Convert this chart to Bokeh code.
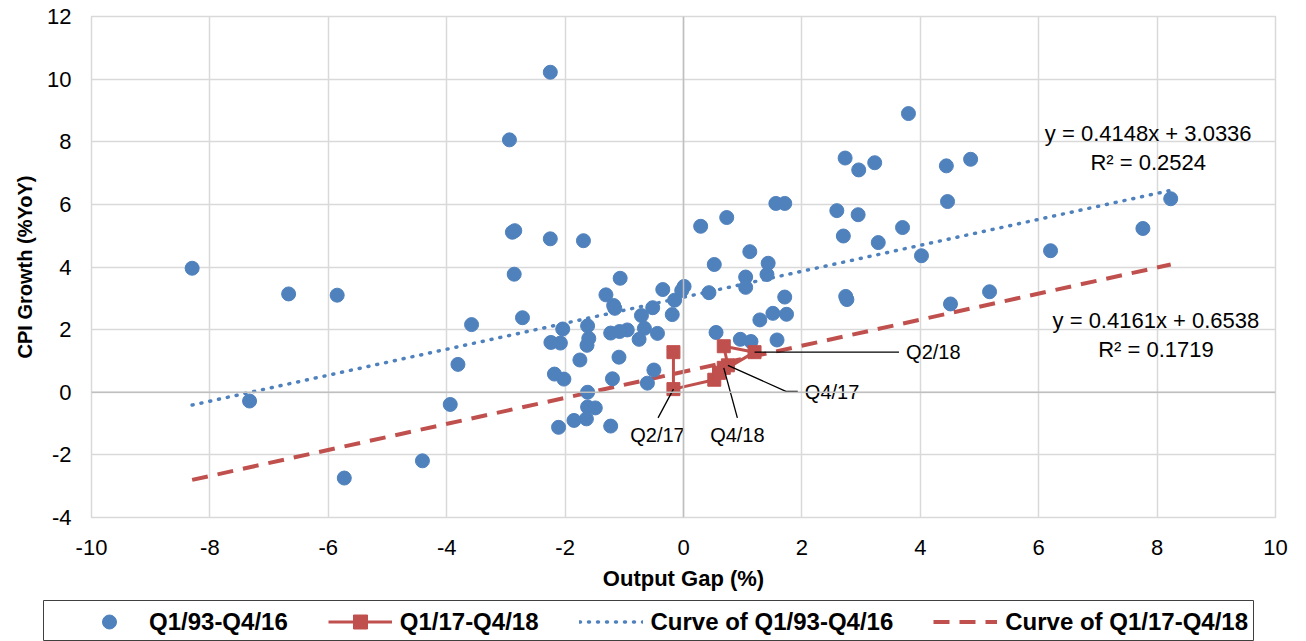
from bokeh.plotting import figure
from bokeh.layouts import column
from bokeh.models import Range1d, Legend, LegendItem, Span, PrintfTickFormatter
from bokeh.core.properties import value
from bokeh.embed import file_html
from bokeh.resources import INLINE

# ---- data ----
hist_x = [-8.30, -6.67, -5.85, -7.33, -5.73, -4.41, -3.94, -3.81, -3.58,
          -2.25, -2.94, -2.89, -2.85, -2.25, -1.69, -2.86, -2.72, -1.07,
          -1.31, -1.18, -1.16, -0.71, -0.52, -0.35, -0.19, -0.15, 0.01, -0.03,
          -0.66, -0.75, -0.44, -0.95, -1.08, -1.23, -1.60, -1.63, -1.62, -2.04,
          -2.24, -2.08, -1.75, -1.09, -2.18, -2.02, -1.20, -0.50, -0.61, -1.62,
          -1.62, -1.49, -1.64, -1.85, -2.11, -1.23,
          0.29, 0.73, 0.52, 0.43, 1.12, 1.43, 1.41, 1.05, 1.05, 1.71, 1.51,
          1.74, 1.29, 0.55, 0.96, 1.14, 1.58, 1.56, 1.71, 2.59, 2.95, 2.73,
          2.96, 3.23, 3.80, 4.44, 4.85, 4.46, 2.70, 3.70, 3.29, 4.02, 2.74,
          2.76, 4.51, 5.17, 6.20, 7.76, 8.23]
hist_y = [3.96, 3.14, 3.10, -0.28, -2.74, -2.19, -0.39, 0.89, 2.16,
          10.22, 8.06, 5.11, 5.16, 4.90, 4.84, 3.77, 2.38, 3.64,
          3.11, 2.77, 2.68, 2.45, 2.70, 3.28, 2.48, 2.94, 3.38, 3.25,
          2.04, 1.69, 1.88, 1.99, 1.94, 1.89, 1.72, 1.50, 2.12, 2.02,
          1.59, 1.57, 1.03, 1.12, 0.58, 0.42, 0.43, 0.71, 0.29, 0.00,
          -0.47, -0.50, -0.85, -0.90, -1.12, -1.08,
          5.30, 5.58, 4.08, 3.18, 4.49, 4.12, 3.76, 3.68, 3.35, 3.04, 2.52,
          2.49, 2.31, 1.91, 1.69, 1.62, 1.67, 6.03, 6.03, 5.80, 5.67, 7.48,
          7.10, 7.33, 8.90, 7.23, 7.44, 6.09, 4.99, 5.26, 4.78, 4.36, 3.06,
          2.96, 2.82, 3.21, 4.52, 5.23, 6.18]

recent_labels = ["Q1/17", "Q2/17", "Q3/17", "Q4/17", "Q1/18", "Q2/18", "Q3/18", "Q4/18"]
recent_x = [-0.17, -0.17, 0.52, 0.75, 0.68, 1.20, 0.60, 0.68]
recent_y = [1.28, 0.10, 0.40, 0.86, 1.47, 1.28, 0.62, 0.78]

fit_hist = (0.4148, 3.0336, 0.2524)     # slope, intercept, R^2
fit_recent = (0.4161, 0.6538, 0.1719)

x_ticks = list(range(-10, 11, 2))
y_ticks = list(range(-4, 13, 2))

series_names = ["Q1/93-Q4/16", "Q1/17-Q4/18", "Curve of Q1/93-Q4/16", "Curve of Q1/17-Q4/18"]

# ---- styling ----
BLUE = "#4f81bd"
RED = "#c0504d"
FONT = "Liberation Sans"

p = figure(width=1290, height=600, output_backend="svg", toolbar_location=None,
           x_range=Range1d(-10, 10), y_range=Range1d(-4, 12),
           min_border_left=91, min_border_right=15, min_border_top=16, min_border_bottom=83)
p.background_fill_color = "white"
p.border_fill_color = "white"
p.outline_line_color = "#d9d9d9"
p.outline_line_width = 1.5

p.xgrid.grid_line_color = "#d9d9d9"
p.ygrid.grid_line_color = "#d9d9d9"
p.xgrid.grid_line_width = 1.5
p.ygrid.grid_line_width = 1.5
p.xaxis.ticker = x_ticks
p.yaxis.ticker = y_ticks

for ax in (p.xaxis, p.yaxis):
    ax.axis_line_color = None
    ax.major_tick_line_color = None
    ax.minor_tick_line_color = None
    ax.major_tick_out = 0
    ax.major_tick_in = 0
    ax.formatter = PrintfTickFormatter(format="%d")
    ax.major_label_text_font = FONT
    ax.major_label_text_font_size = "22px"
    ax.major_label_text_color = "black"
    ax.axis_label_text_font = FONT
    ax.axis_label_text_font_style = "bold"
    ax.axis_label_text_color = "black"

p.xaxis.major_label_standoff = 22
p.yaxis.major_label_standoff = 20
p.xaxis.axis_label = "Output Gap (%)"
p.yaxis.axis_label = "CPI Growth (%YoY)"
p.xaxis.axis_label_text_font_size = "22px"
p.yaxis.axis_label_text_font_size = "20px"
p.xaxis.axis_label_standoff = 8
p.yaxis.axis_label_standoff = 8

# zero axis lines
p.add_layout(Span(location=0, dimension="height", line_color="#bfbfbf", line_width=1.5))
p.add_layout(Span(location=0, dimension="width", line_color="#bfbfbf", line_width=1.5))

# trend lines across the historical x-range
x0, x1 = min(hist_x), max(hist_x)
tl_x = [x0, x1]
fit_style_h = dict(line_color=BLUE, line_width=3.5, line_dash="1 8", line_cap="round")
fit_style_r = dict(line_color=RED, line_width=4, line_dash="16 10")
p.line(tl_x, [fit_hist[0] * v + fit_hist[1] for v in tl_x], **fit_style_h)
p.line(tl_x, [fit_recent[0] * v + fit_recent[1] for v in tl_x], **fit_style_r)

hist_style = dict(marker="circle", size=14, fill_color=BLUE, line_color=BLUE)
rline_style = dict(line_color=RED, line_width=3)
rsq_style = dict(marker="square", size=13, fill_color=RED, line_color=RED)
p.scatter(hist_x, hist_y, **hist_style)
p.line(recent_x, recent_y, **rline_style)
p.scatter(recent_x, recent_y, **rsq_style)

# callout labels for selected quarters
idx = {lab: i for i, lab in enumerate(recent_labels)}
callouts = [
    # label, leader path offsets (dx, dy) from the point, text offset, align
    ("Q2/17", [(-0.26, -0.92)], (-0.27, -1.45), "center"),
    ("Q4/18", [(0.23, -1.60)], (0.23, -2.15), "center"),
    ("Q4/17", [(0.98, -0.83), (1.18, -0.83)], (1.30, -0.84), "left"),
    ("Q2/18", [(2.44, 0.0)], (2.56, 0.0), "left"),
]
for lab, path, toff, align in callouts:
    px, py = recent_x[idx[lab]], recent_y[idx[lab]]
    xs = [px] + [px + d[0] for d in path]
    ys = [py] + [py + d[1] for d in path]
    p.line(xs, ys, line_color="black", line_width=1.3)
    p.text([px + toff[0]], [py + toff[1]], text=[lab], text_font=value(FONT),
           text_font_size="20px", text_align=align, text_baseline="middle", text_color="black")

# regression equations
def eq_text(fit, cx, cy):
    s, b, r2 = fit
    p.text([cx], [cy], text=[f"y = {s:.4f}x + {b:.4f}"], text_font=value(FONT),
           text_font_size="22px", text_align="center", text_baseline="middle", text_color="black")
    p.text([cx], [cy - 0.93], text=[f"R² = {r2:.4f}"], text_font=value(FONT),
           text_font_size="22px", text_align="center", text_baseline="middle", text_color="black")

eq_text(fit_hist, 7.85, 8.27)
eq_text(fit_recent, 7.98, 2.29)

# ---- legend strip below the chart ----
p2 = figure(width=1290, height=41, output_backend="svg", toolbar_location=None,
            x_range=Range1d(0, 1), y_range=Range1d(0, 1),
            x_axis_location=None, y_axis_location=None,
            min_border_left=43, min_border_right=37, min_border_top=0, min_border_bottom=0)
p2.grid.visible = False
p2.outline_line_color = "#404040"
p2.outline_line_width = 1
p2.background_fill_color = "white"
p2.border_fill_color = "white"

g1 = p2.scatter([-5], [-5], **hist_style)
g2a = p2.line([-5, -6], [-5, -6], **rline_style)
g2b = p2.scatter([-5], [-5], **rsq_style)
g3 = p2.line([-5, -6], [-5, -6], **fit_style_h)
g4 = p2.line([-5, -6], [-5, -6], **fit_style_r)

legend = Legend(items=[
    LegendItem(label=series_names[0], renderers=[g1]),
    LegendItem(label=series_names[1], renderers=[g2a, g2b]),
    LegendItem(label=series_names[2], renderers=[g3]),
    LegendItem(label=series_names[3], renderers=[g4]),
], orientation="horizontal", location=(30, -2))
legend.label_text_font = FONT
legend.label_text_font_style = "bold"
legend.label_text_font_size = "24px"
legend.label_text_color = "black"
legend.glyph_width = 64
legend.glyph_height = 35
legend.label_standoff = 8
legend.spacing = 40
legend.padding = 4
legend.margin = 0
legend.border_line_alpha = 0
legend.background_fill_alpha = 0
p2.add_layout(legend)

open("out.html", "w").write(file_html(column(p, column(p2), spacing=0), INLINE))
